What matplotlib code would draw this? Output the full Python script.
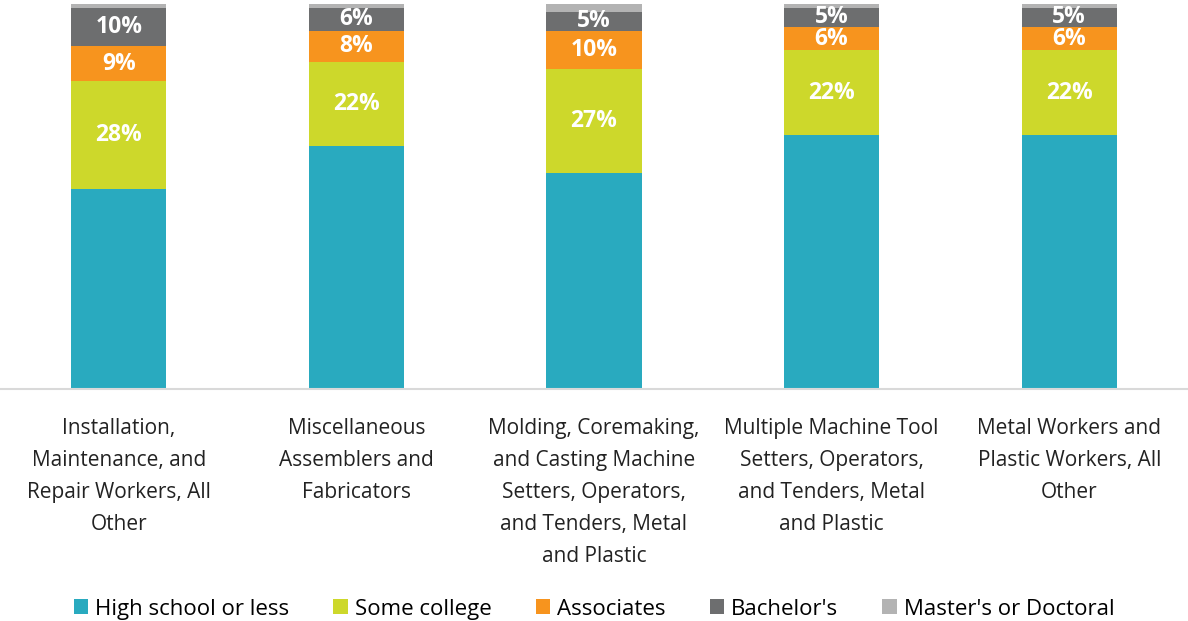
import matplotlib
matplotlib.use("Agg")
import matplotlib.pyplot as plt
import numpy as np

categories = [
    "Installation,\nMaintenance, and\nRepair Workers, All\nOther",
    "Miscellaneous\nAssemblers and\nFabricators",
    "Molding, Coremaking,\nand Casting Machine\nSetters, Operators,\nand Tenders, Metal\nand Plastic",
    "Multiple Machine Tool\nSetters, Operators,\nand Tenders, Metal\nand Plastic",
    "Metal Workers and\nPlastic Workers, All\nOther",
]
series_names = ["High school or less", "Some college", "Associates", "Bachelor's", "Master's or Doctoral"]
high_school = [52, 63, 56, 66, 66]
some_college = [28, 22, 27, 22, 22]
associates = [9, 8, 10, 6, 6]
bachelors = [10, 6, 5, 5, 5]
masters = [1, 1, 2, 1, 1]
colors = ["#29AABF", "#CDD82B", "#F7941E", "#6D6E6F", "#B3B3B3"]
labeled = [False, True, True, True, False]

plt.rcParams['font.family'] = ['Open Sans', 'DejaVu Sans']
fig = plt.figure(figsize=(11.88, 6.21), dpi=100)
ax = fig.add_axes([0.0, 1 - 389 / 621, 1.0, 385 / 621])

x = np.arange(len(categories))
data = [high_school, some_college, associates, bachelors, masters]
bottom = np.zeros(len(categories))
handles = []
for vals, name, col, lab in zip(data, series_names, colors, labeled):
    vals = np.array(vals, dtype=float)
    b = ax.bar(x, vals, 0.4, bottom=bottom, color=col, label=name)
    handles.append(b)
    if lab:
        for xi, v, bo in zip(x, vals, bottom):
            ax.text(xi, bo + v / 2, f"{int(v)}%", ha="center", va="center",
                    color="white", fontsize=16.5, fontweight="bold")
    bottom += vals

ax.set_xlim(-0.5, 4.5)
ax.set_ylim(0, 100)
ax.set_yticks([])
ax.set_xticks(x)
ax.set_xticklabels(categories, fontsize=15, color="#222222", linespacing=1.68)
ax.tick_params(axis="x", length=0, pad=21)
for s in ["top", "left", "right"]:
    ax.spines[s].set_visible(False)
ax.spines["bottom"].set_color("#D9D9D9")
ax.spines["bottom"].set_linewidth(1.5)

fig.legend(handles=handles, labels=series_names, loc="lower center", ncol=5,
           bbox_to_anchor=(0.5, -0.03), frameon=False, fontsize=16,
           handlelength=0.65, handleheight=0.65, handletextpad=0.3, columnspacing=2.0)

fig.savefig("out.png", dpi=100)
